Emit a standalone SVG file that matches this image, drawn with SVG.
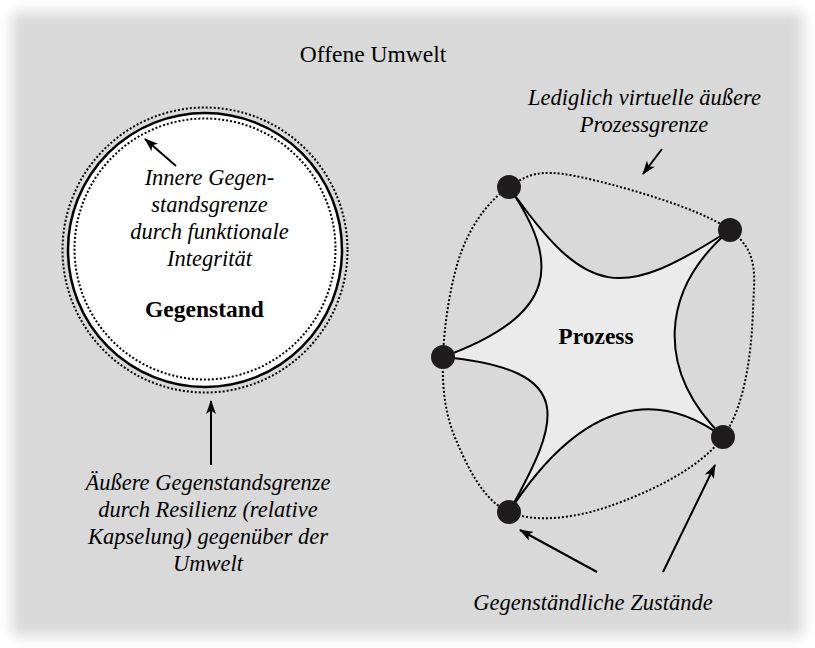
<svg xmlns="http://www.w3.org/2000/svg" width="815" height="648" viewBox="0 0 815 648">
  <defs>
    <filter id="soft" x="-5%" y="-5%" width="110%" height="110%">
      <feGaussianBlur stdDeviation="7"/>
    </filter>
    <marker id="head" viewBox="0 0 14 10" refX="13" refY="5" markerWidth="14" markerHeight="10" markerUnits="userSpaceOnUse" orient="auto">
      <path d="M0,0 L14,5 L0,10 L3.5,5 z" fill="#000"/>
    </marker>
    <style>
      .it { font-family: "Liberation Serif", "Times New Roman", serif; font-style: italic; font-size: 22.5px; fill: #000; text-anchor: middle; }
      .rm { font-family: "Liberation Serif", "Times New Roman", serif; font-size: 23.5px; fill: #000; text-anchor: middle; }
      .bd { font-family: "Liberation Serif", "Times New Roman", serif; font-weight: bold; font-size: 23.5px; fill: #000; text-anchor: middle; }
      .dot { fill: none; stroke: #000; stroke-width: 2; stroke-dasharray: 2 2; }
      .arrow { fill: none; stroke: #000; stroke-width: 2; marker-end: url(#head); }
      .state { fill: #1f1c1e; }
    </style>
  </defs>

  <!-- page background with soft edge -->
  <rect width="815" height="648" fill="#ffffff"/>
  <rect x="12" y="12" width="791" height="624" fill="#d9d9d9" filter="url(#soft)"/>

  <text class="rm" x="373" y="62">Offene Umwelt</text>

  <!-- object with its two boundaries -->
  <g id="gegenstand">
    <circle cx="205" cy="250" r="137" fill="#ffffff" stroke="#000" stroke-width="2.5"/>
    <circle class="dot" cx="205" cy="250" r="142.5"/>
    <circle class="dot" cx="205" cy="249" r="130.5"/>
    <text class="it" x="209.5" y="185">Innere Gegen-</text>
    <text class="it" x="209.5" y="212">standsgrenze</text>
    <text class="it" x="209.5" y="239">durch funktionale</text>
    <text class="it" x="209.5" y="266">Integrität</text>
    <text class="bd" x="204.5" y="317">Gegenstand</text>
  </g>

  <g id="label-aussen">
    <text class="it" x="208" y="490">Äußere Gegenstandsgrenze</text>
    <text class="it" x="208" y="517">durch Resilienz (relative</text>
    <text class="it" x="208" y="544">Kapselung) gegenüber der</text>
    <text class="it" x="208" y="571">Umwelt</text>
  </g>

  <!-- process: virtual boundary and star-shaped body -->
  <g id="prozessgrenze">
    <path class="dot" d="M509,187 C527.8,174.7 538.2,168.8 575,176 C611.8,183.2 700.3,207.7 730,230 C759.7,252.3 754.2,275.5 753,310 C751.8,344.5 746.8,404.3 723,437 C699.2,469.7 645.7,493.5 610,506 C574.3,518.5 534.7,523 509,512 C483.3,501 467,465.8 456,440 C445,414.2 442,388.7 443,357 C444,325.3 451,278.3 462,250 C473,221.7 490.2,199.3 509,187 Z"/>
  </g>

  <g id="prozess">
    <path d="M509,187 C588,300 621,300 730,230 C660,290 655,370 723,437 C660,390 585,395 509,512 C560,420 580,370 443,357 C560,315 560,262 509,187 Z" fill="#ebebeb" stroke="#000" stroke-width="2" stroke-linejoin="round"/>
    <text class="bd" x="596" y="344">Prozess</text>
  </g>

  <g id="zustaende">
    <circle class="state" cx="509" cy="187" r="12"/>
    <circle class="state" cx="730" cy="230" r="12"/>
    <circle class="state" cx="443" cy="357" r="12"/>
    <circle class="state" cx="509" cy="512" r="12"/>
    <circle class="state" cx="723" cy="437" r="12"/>
  </g>

  <g id="label-prozessgrenze">
    <text class="it" x="644.5" y="105">Lediglich virtuelle äußere</text>
    <text class="it" x="644" y="132">Prozessgrenze</text>
  </g>

  <g id="label-zustaende">
    <text class="it" x="593" y="610">Gegenständliche Zustände</text>
  </g>

  <!-- pointer arrows -->
  <g id="connectors">
    <line class="arrow" x1="176" y1="166" x2="145" y2="139"/>
    <line class="arrow" x1="211" y1="465" x2="211" y2="401"/>
    <line class="arrow" x1="662" y1="149" x2="643" y2="174"/>
    <line class="arrow" x1="597" y1="572" x2="520" y2="530"/>
    <line class="arrow" x1="663" y1="572" x2="715" y2="465"/>
  </g>
</svg>
